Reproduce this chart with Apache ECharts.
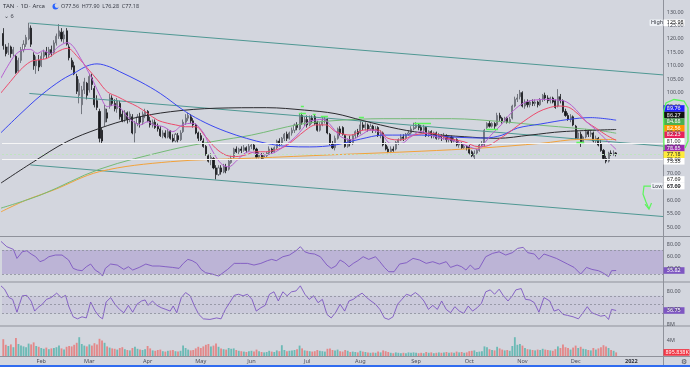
<!DOCTYPE html>
<html><head><meta charset="utf-8">
<script src="https://cdn.jsdelivr.net/npm/echarts@6.0.0/dist/echarts.min.js"></script>
<style>html,body{margin:0;padding:0;background:#d3d6de;}#c{width:690px;height:367px;}</style>
</head><body><div id="c"></div>
<script>
// ---------- DATA ----------
const open = [
122,117,115,117,114.5,113.5,108,112,116,118,
120,124,114,110,112,110,113.5,115,114,116,
115,118.5,121,122.5,120,123,117,112,110,106,
99,95.5,101,103.5,101,105.5,101.5,97,93,86,
89,92.5,95,98,96,94,96,92,90,92.5,
90,91,85,88.5,91,89,91.5,93,89.5,88,
89,87.5,86.5,84,85,83.5,85.5,83,82,84,
82.5,85.5,89,90.5,91,89.5,88,85,84,82,
80,76.5,75,75.5,72,69.5,72,70.5,72.5,71.5,
74,76,79,78,79,78.5,79.5,78.5,80,80.5,
79,76,77,76,76.5,77.5,79,78,79.5,82,
81,83,84.5,83,85,86,88,86.5,91.5,89,
90,88,90.5,91,89,86,88,89.5,90,84.5,
81,79.5,83,86.5,87,84,80,82.5,81,84,
85.5,85,88,87,88,86.5,87.5,86,87,84,
85,80.5,79,78,79,79,81.5,82.5,83.5,83,
84.5,85,86.5,87,88,87,86,87,84,85.5,
84,85,83,84,83.5,84,82.5,83.5,82,82.5,
80.5,81,79.5,80,80,78,76,77.5,78.5,80.5,
80.5,87,88.5,87.5,88.5,88,91.5,90.5,89.5,90.5,
89,90.5,95,97.5,98.5,100,95,96.5,95.5,96.5,
96,96.5,95.5,97.5,99,98,97,98,97,95,
98.5,97,93,91.5,90,91,87.5,83,84.5,81.5,
83.5,85.5,84.5,85,82,83,81,78.5,75.5,74.5,
77.5,77,77.56];
const high = [
124,118,118.5,117.5,117,114,113,117,119.5,121.5,
126,125,115,113.5,114,115,116,117,117,117.5,
119.5,122,125.5,124,123,124,118,113,111.5,107,
105,102.5,105.5,104,107,107,102.5,99,94,87,
95.5,94,99.5,99,97.5,98,97,93.5,93.5,93,
93,92,89.5,92,92.5,93,94,93.5,91,90,
90,88.5,87.5,86,86,86.5,86,84.5,85,85,
86,90,92,92.5,92,90.5,88.5,85.5,85,83,
80.5,77,77.5,76,73,73,73,73.5,73.5,75.5,
76.5,79.5,80,79.5,80,80.5,80,81,81,81,
79.5,78,77.5,77.5,78,80,79.5,80,82.5,83,
83.5,85,85.5,85.5,87,88.5,89,92.4,92.5,91,
91.5,91.5,91.5,92,89.5,89,91,91,90.5,85,
82,84,87,87.5,87.5,84.5,83,84,84.5,86,
86.5,89.5,89,89,88.5,88.5,88,87.5,87.5,86,
85.5,81.5,80,80,80,82,83,84.5,84.5,85,
86,87.5,88.8,89,88.5,88,88,87.5,86,86,
85.5,85.5,85,84.5,85,84.5,84,84,83.5,83,
82,81.5,81,80.5,80.5,78.5,78.5,79,81,82,
86.5,89,89.5,89,89,92.5,92.5,91,91,91,
91,95.5,98.5,99.5,101,100.5,97.5,97.5,97,97.5,
97.5,97,98,99.5,100,99,98.5,98.5,97.5,101.3,
99.5,97.5,94,92.5,92,91.5,88,86,85.5,84,
86.5,86,86,85.5,84,83.5,82.5,79,76.5,78,
78.5,78.5,77.9];
const low = [
116,113.5,114,113,113.5,107,107.5,111,115,117,
119.5,117,108.5,107,108,109.5,112.5,112.5,113,113.5,
114.5,117.5,120,119,118.5,117.5,112,108.5,106.5,99.5,
96,92,99.5,97.5,100,101,94.5,93.5,81.5,81.1,
87.5,89,94,95,93,92.5,90,89,89,88.5,
89,84.5,81.5,87.5,87,88,90.5,89,87,87,
86.5,85.5,83.5,83,83,83,82.5,81.5,81.5,81.5,
82,85,88,89.5,88.5,87,84.5,82,82,79.5,
76.5,74,73,71.5,67.69,69,69.5,70,70,71,
73.5,75.5,77.5,77,77.5,78,77.5,78,79,78.5,
75.5,75.5,75,75,76,77,77,77.5,79,80,
80.5,82,82,82.5,84,85,86,86,88,87.5,
87,87.5,88.5,88,85.5,85.5,87.5,88.5,84.5,80.5,
79,78.5,82.5,84,84,79.5,79.5,80,80.5,83,
83.5,84.5,86,86,85.5,86,85,85,83.5,83,
80,78.5,77.5,77.5,78,78.5,80.5,82,82,82.5,
84,84.5,86,86.5,86,85.5,85,83.5,83.5,83,
83,82.5,82.5,82,82.5,81.5,81.5,81,81.5,80,
79.5,79,79,78.5,77,76,75.3,77,78,80,
80,86.5,87,87,86.5,87.5,89.5,88.5,89,88.5,
88.5,90,94.5,96.5,97.5,94.5,94,94.5,94.5,95,
95,94.5,95,96.5,97,96,96,96,94,94.5,
96,92.5,91,89.5,89,87.5,82.5,82.5,79.8,81,
83,83.5,83.5,81.5,81,80,78,75,73.7,74,
76.5,76.5,76.28];
const close = [
117.5,114.5,117,114.5,116,107.5,112,116,118,120.5,
124,118,110,112,109.5,113.5,115,114,116,114.5,
118.5,121,123,120,121.5,118,113,109.5,107,100.5,
103.5,101,104,99,106,103,95.5,94.5,83,82,
94,90.5,98,96,94,97,91,89.5,92.5,90,
92,85,88.5,91,89,92,93,89.5,88,89,
87,86.5,84,85,83.5,85.5,83,82,84.5,82.5,
85,89,90.5,91.5,89.5,88,85,83,82.5,80,
77,74.5,76,72,69.5,72,70.5,72.5,71,74.5,
75.5,79,78,79,78.5,79.5,78.5,80,80.5,79,
76,77,75.5,76.5,77.5,79,78,79.5,82,81,
83,84.5,83,85,86,88,87,91.5,89,90,
88,90.5,89.5,88.5,86,88,89.5,90,85,81,
79.5,83,86.5,85,84.5,80,82.5,81,84,85.5,
84.5,88,87,88,86.5,87.5,86,86.5,84,85,
80.5,79,78,79,78.5,81.5,82.5,83.5,83,84.5,
85,86.5,87,88,87,86,87,84,85.5,84,
85,83,84,83.5,84,82.5,83.5,82,82.5,80.5,
81,79.5,80,79.5,77.5,76.5,77.5,78.5,80.5,81,
86,88.5,87.5,88.5,87.5,91.5,90.5,89.5,90.5,89,
90,95,97.5,98,100,95,96.5,95.5,96.5,96,
96.5,95.5,97.5,99,98,97,98,96.5,94.5,98.5,
97,93,91.5,90,91,88,83,85,81.5,83.5,
85.5,84.5,85,82,83,80.5,78.5,75.5,74.5,77.5,
77,77.6,77.18];
// volume in millions of shares
const volume = [
4.2,2.8,2.5,2.9,2.2,4.5,3.0,2.6,2.4,2.2,
3.1,2.9,3.4,2.5,2.3,2.0,1.8,2.1,1.7,1.9,
2.0,2.2,2.6,1.9,1.6,2.3,2.5,2.4,2.8,3.3,
4.7,3.0,2.6,2.4,2.9,2.6,3.2,2.9,4.3,3.9,
3.3,2.4,2.1,1.9,1.8,1.6,2.0,2.2,1.7,1.5,
1.4,2.0,2.3,1.8,1.6,1.5,1.7,2.5,1.9,1.4,
1.3,1.5,1.6,1.2,1.1,1.3,1.4,1.5,1.2,1.1,
1.3,2.6,2.0,1.6,1.4,1.5,1.9,2.3,2.0,2.4,
2.8,3.0,2.4,2.6,3.1,2.3,1.9,1.7,1.6,2.0,
1.8,1.9,1.5,1.3,1.2,1.1,1.0,1.2,1.3,1.1,
1.6,1.2,1.0,0.9,1.0,1.3,1.1,1.0,1.4,1.2,
2.7,1.5,1.2,1.3,1.4,1.5,1.7,2.6,1.9,1.4,
1.3,1.2,1.1,1.2,1.5,1.3,1.2,1.1,1.8,1.9,
1.5,1.4,1.6,1.2,1.1,1.5,1.3,1.0,1.1,1.0,
0.9,1.3,1.1,1.0,0.9,0.8,0.9,0.8,1.1,0.9,
1.4,1.2,1.0,0.8,0.7,0.9,0.8,0.7,0.8,0.7,
0.9,0.8,0.9,0.8,0.7,0.8,0.7,1.0,0.8,0.9,
0.7,0.8,0.9,0.8,0.9,1.0,0.8,0.9,0.8,1.1,
0.9,1.0,0.8,0.9,1.2,1.3,1.4,1.0,1.1,1.2,
2.4,2.2,1.7,1.5,1.4,2.3,1.9,1.6,1.4,1.5,
1.3,2.5,4.7,2.8,3.0,2.6,2.0,1.7,1.6,1.5,
1.4,1.6,1.5,1.8,1.6,1.5,1.4,1.3,1.7,2.4,
2.0,2.9,2.2,2.0,1.6,2.1,2.6,2.0,2.3,1.8,
1.7,1.5,1.4,2.0,1.6,1.9,2.2,2.7,2.4,2.0,
1.5,1.3,0.896];

// moving-average lines: [bar index, price]
const maPurple = [[-1,105.3],[1.6,109.6],[4.7,114],[7.9,115.9],[10.7,116.1],[13.4,114.6],[15.8,115.6],[18.6,114.6],[21.8,117.1],[25.3,118.6],[27.7,117.1],[30.5,112.8],[33.2,108.4],[35.6,104.1],[38.4,98.5],[41.1,94.8],[43.5,95.4],[46.3,94.2],[49,91],[51.4,89.2],[54.2,88],[57,89.2],[59.3,88],[63.3,87.3],[66.9,85.5],[70.8,88],[74.8,88.6],[78.7,85.5],[81.1,81.1],[83.9,76.2],[86.6,73.1],[89,72.4],[91.8,74.3],[94.5,76.8],[96.9,78],[99.7,77.4],[103.6,76.8],[107.6,78],[111.5,80.5],[115.5,83.6],[118.3,86.7],[120.6,89.2],[123.4,89.8],[126.2,90.1],[128.6,88.6],[131.3,85.5],[133.3,83.6],[137.3,82.4],[141.2,84.2],[145.2,86.1],[149.1,84.9],[153.1,81.1],[157,81.1],[161,83.6],[165,85.5],[168.9,84.2],[172.9,83],[176.8,82.4],[180.8,81.1],[184.7,79.6],[187.5,78.9],[189.9,81.1],[192.6,84.2],[196.6,88],[198.6,90.4],[202.5,94.2],[206.5,96.6],[210.4,97.3],[214.4,97.5],[218.4,97.3],[222.3,96.6],[226.3,93.5],[230.2,89.2],[234.2,86.1],[238.1,82.4],[242,78.85]];
const maRed = [[-1,99.8],[2.8,104.1],[6.7,108.4],[10.7,111.5],[13.4,112.1],[17.4,112.8],[21.4,115.2],[25.3,116.5],[29.3,113.4],[33.2,109.1],[37.2,104.7],[41.1,100.3],[45.1,98.5],[49,96.6],[53,94.8],[57,92.3],[60.9,89.8],[64.9,88.6],[68,88],[72,87.3],[76,87.3],[79.9,83.6],[83.9,79.3],[87.8,76.8],[91.8,76.2],[95.7,76.8],[99.7,78],[103.6,78],[107.6,78.7],[111.5,80.1],[115.5,83],[119.5,86.1],[123.4,88],[127.4,88],[131.3,85.5],[137.3,84.2],[142.4,86.1],[147.9,86.1],[151.9,83],[157,82.4],[162.2,84.2],[168.9,84.9],[175.6,83],[182,81.7],[187.5,79.9],[191.5,80.3],[195.4,82.5],[199.4,85],[203.3,87.8],[207.3,90.5],[211.2,92.8],[215.2,94.3],[219.1,95],[223.1,94.6],[227,92],[230.2,89.2],[234.2,86.7],[238.1,84.2],[242,82.23]];
const maBlue = [[-1,85],[7,92.3],[15,99.1],[23,104.7],[29,107.8],[33,109.9],[37,110.7],[42,109.6],[46,107.8],[54,104.1],[62,99.7],[72,92.9],[80,88.7],[88,85.5],[96,83],[104,81.1],[112,80],[121,79.8],[131,80.5],[141,82.7],[150,84.2],[165,84.2],[177,83.5],[190,83.1],[197,84.2],[203,86.8],[212,88.3],[223,90],[232,90.7],[242,89.76]];
const maBlack = [[-1,66.3],[12,74.3],[25,81.7],[38,86.7],[51,90.4],[66,92.9],[84,94.2],[104,94.4],[119,93.5],[131,92.2],[142,89.6],[156,86.5],[169,84.6],[182,83.6],[195,83],[208,84.2],[221,85.5],[242,86.27]];
const maGreen = [[-1,57],[15,62],[38,71.5],[66,78.7],[84,82],[98,84.2],[117,88.2],[131,89.6],[150,90.3],[177,90.3],[197,89.2],[208,88.2],[223,87],[236,85.8],[242,84.88]];
const maOrange = [[-1,55.6],[9,60],[20,63.8],[38,70.6],[66,74.3],[98,75.6],[131,76.9],[165,78.2],[189,79.4],[212,81.1],[228,82.6],[242,82.56]];

// drawn trend channel: [[startIdx, price],[endIdx, price]]
const channelLines = [
  [[10.3,125.9],[260.5,106.6]],
  [[10.3,99.7],[260.5,80.1]],
  [[10.7,73.1],[260.5,53.9]]];
// drawn horizontal levels
const hLevels = [81.00, 75.35];
const lastPrice = 77.18;
// green pivot dashes: [fromIdx, toIdx, price]
const pivotDashes = [[117.5,118.7,95],[116.7,119.5,92.4],[122.2,123.4,92],[125.4,128.2,91.3],[140.4,142.4,90.9],[162.2,168.9,88.7],[190.7,195.4,86.5],[226.3,229.4,81.6]];

// RSI pane, [bar index, value]
const rsi = [[-1.2,85.5],[1.4,75.5],[4,71],[5.4,56],[7.5,67],[9.3,68.8],[11,63.3],[12.8,58.8],[14.5,50.5],[16.2,53.3],[18,58.8],[20.6,61.6],[23.2,61.6],[25.8,53.3],[27.6,39.4],[29.3,36.6],[31.1,35.5],[32.8,42.1],[34.5,46.6],[36.3,36.6],[38,32.1],[39.2,26.6],[40.3,39.4],[42.4,46.6],[45,44.9],[47.6,37.7],[49.4,42.1],[51.1,36.6],[53.7,41],[56.3,46.6],[58.9,43.3],[61.6,43.3],[64.2,42.1],[66.8,41],[69.4,39.4],[71.1,47.7],[72.9,54.4],[74.6,52.2],[76.4,47.7],[78.1,37.7],[79.9,32.1],[82.5,29.9],[85.1,26.6],[86.8,32.1],[88.6,37.7],[91.2,47.7],[93.8,47.7],[96.4,47.7],[99,44.9],[101.7,47.7],[104.3,52.2],[106,54.4],[107.8,52.2],[110.4,58.8],[113,61.6],[115.6,68.8],[117.3,75.5],[119.1,67],[120.8,64.4],[122.9,63.3],[125.2,58.8],[127.8,44.9],[129.5,39.4],[131.3,43.3],[133,53.3],[134.8,48.8],[136.5,42.1],[138.2,47.7],[140,52.2],[142.1,58.8],[144.3,54.4],[147,58.8],[148.7,50.5],[150.5,41],[152.2,33.8],[154.3,33.8],[156.5,46.6],[159.2,48.8],[161.8,56],[164.4,53.3],[167,47.7],[169.6,50.5],[172.2,46.6],[174.9,50.5],[176.6,41],[179.2,44.9],[181,42.1],[182.7,36.6],[184.4,44.9],[186.2,37.7],[187.9,39.4],[190.5,58.8],[193.2,64.4],[195.8,67],[198.4,61.6],[201,65.5],[203.1,72.7],[205.3,74.4],[207.1,65.5],[209.7,63.3],[211.5,54.4],[213.5,63.3],[215.8,60],[218.4,56],[220.2,52.2],[222.8,46.6],[225.4,41],[228,29.9],[230.3,41],[232.4,37.7],[235,35.5],[236.7,32.1],[239,25.5],[240.2,35.5],[242,35.82]];
// second oscillator pane, [bar index, value]
const osc = [[-1.2,94],[0.5,85],[2.3,66],[3.7,62],[5.4,33],[7.5,70],[9.3,71],[11,58],[12.4,35.5],[13.6,43],[15.4,51],[17.1,62],[18.9,66],[21.1,76],[22.9,66],[24.6,71],[25.8,47],[27.6,22.6],[29.3,18],[31.1,22.6],[32.8,20],[34.5,56],[36.3,35.5],[38,22.6],[39.2,18],[40.6,56],[42.4,66],[44.1,51],[45.9,39.3],[47.6,31.7],[49.4,48.4],[51.1,33],[52.8,51],[54.6,58.3],[56,60.6],[57.2,48.4],[58.9,58.3],[60.7,48.4],[62.4,43],[64.2,39.3],[65.9,35.5],[67.1,47],[68.5,31.7],[70.3,66],[72,77.3],[73.8,70],[75.5,47],[77.2,28],[79,18],[81.6,16.6],[84.2,20],[86,18],[87.7,39.3],[89.4,54.5],[91.2,71],[92.9,73.5],[94.7,70],[96.4,73.5],[98.2,62],[99.9,35.5],[101.7,43],[103.4,48.4],[105.1,73.5],[106.9,79],[108.6,58.3],[110.4,79],[112.1,70],[113.8,79],[115.6,81],[117.3,92.5],[119.1,73.5],[120.8,62],[122.6,70],[124.3,54.5],[126,62],[127.8,28],[129.5,20],[131.3,33],[133,51],[134.8,35.5],[136.5,58.3],[138.2,62],[140,70],[141.7,76],[143.5,66],[145.2,58.3],[147,51],[148.7,39.3],[150.5,20],[152.2,16.6],[153.9,22.6],[155.7,51],[157.4,62],[159.2,73.5],[160.9,70],[162.7,77.3],[164.4,70],[166.1,58.3],[167.9,39.3],[169.6,48.4],[171.4,39.3],[173.1,58.3],[174.9,39.3],[176.6,31.7],[178.3,45.4],[180.1,35.5],[181.8,30.2],[183.6,47],[185.3,35.5],[187.1,43],[188.8,53],[190.5,79],[192.3,83.4],[194,73.5],[195.8,85],[197.5,70],[199.3,58.3],[201,70],[202.4,83.4],[204.5,86.4],[206.2,62],[208,60.6],[209.7,54.5],[211.5,33],[213.5,66],[215.8,58.3],[217.5,35.5],[219.3,39.3],[221,28],[222.8,25.7],[225,22.6],[227.1,18],[228.9,31.7],[230.6,45.4],[232.4,31.7],[234.1,28],[235.9,24],[237.6,25.7],[239,16.6],[240.2,39.3],[242,36.75]];

// axis ticks and labels
const monthTickIdx = [15,34,57,78,98,120,141,163,184,205,226,248];
const monthTickText = ['Feb','Mar','Apr','May','Jun','Jul','Aug','Sep','Oct','Nov','Dec','2022'];
const priceTicks = [130,125,120,115,110,105,100,95,90,85,80,75,70,65,60,55,50];
const rsiTicks = [80,60,40];
const oscTicks = [80,40];
const volTicks = [4,8];
const maLabelValues = [89.76,86.27,84.88,82.56,82.23,81.00,78.85,77.18,75.35];
const highValue = 125.98, lowValue = 67.69;
const rsiLast = 35.82, oscLast = 36.75, volLastText = '895.838K';

// ---------- STYLE ----------
const N_SLOTS = 261;
const slots = Array.from({length: N_SLOTS}, (_, i) => String(i));
const BG = '#d3d6de';
const maLabelBg = ['#1f1fff','#111111','#4caf50','#ff9800','#e8205a','#ffffff','#9c27b0','#ffeb3b','#ffffff'];
const maLabelFg = ['#fff','#fff','#fff','#fff','#fff','#222','#fff','#222','#222'];
const FONT = '"Noto Sans", "Liberation Sans", sans-serif';

const chart = echarts.init(document.getElementById('c'), null, {renderer: 'canvas'});
const xVal = (g) => ({type: 'value', gridIndex: g, min: -0.5, max: N_SLOTS - 0.5, show: false});
const yVal = (g, mn, mx) => ({type: 'value', gridIndex: g, min: mn, max: mx, show: false, scale: true});
const maSeries = (data, color, w) => ({type: 'line', xAxisIndex: 1, yAxisIndex: 0, data, smooth: 0.35, showSymbol: false, silent: true, z: 4, lineStyle: {color, width: w || 1}});

const option = {
  animation: false,
  backgroundColor: BG,
  grid: [
    {left: 2, top: 0, width: 661, height: 236, outerBoundsMode: 'none'},
    {left: 2, top: 236, width: 661, height: 46, outerBoundsMode: 'none'},
    {left: 2, top: 282, width: 661, height: 44, outerBoundsMode: 'none'},
    {left: 2, top: 326, width: 661, height: 30, outerBoundsMode: 'none'}
  ],
  xAxis: [
    {type: 'category', gridIndex: 0, data: slots, show: false, boundaryGap: true},
    xVal(0), xVal(1), xVal(2),
    {type: 'category', gridIndex: 3, data: slots, boundaryGap: true,
     axisLine: {show: false}, axisTick: {show: false}, splitLine: {show: false},
     axisLabel: {
       interval: (i) => monthTickIdx.indexOf(i) >= 0,
       formatter: (v) => { const k = monthTickIdx.indexOf(+v); return k < 0 ? '' : (k === 11 ? '{b|2022}' : monthTickText[k]); },
       rich: {b: {fontWeight: 'bold', fontSize: 5.6, color: '#2f323b', fontFamily: FONT}},
       fontSize: 5.6, color: '#4a4d57', margin: 2.5, fontFamily: FONT
     }}
  ],
  yAxis: [yVal(0, 46.65, 134.47), yVal(1, 16.67, 93.33), yVal(2, 1.8, 101.2), yVal(3, 0, 7.5)],
  series: [
    {type: 'candlestick', xAxisIndex: 0, yAxisIndex: 0, z: 3, silent: true,
     data: open.map((o, i) => [o, close[i], low[i], high[i]]),
     barWidth: '62%',
     itemStyle: {color: '#eceef2', color0: '#17181c', borderColor: '#5b5e67', borderColor0: '#17181c', borderWidth: 0.8},
     markLine: {silent: true, symbol: 'none', label: {show: false}, animation: false,
       data: hLevels.map(v => ({yAxis: v, lineStyle: {color: '#f6f6f6', type: 'solid', width: 1}}))
         .concat([{yAxis: lastPrice, lineStyle: {color: '#bfe3c0', type: [2, 2], width: 1}}])}},
    maSeries(maOrange, '#f2a23a'),
    maSeries(maGreen, '#74ba76'),
    maSeries(maBlack, '#2a2a2e'),
    maSeries(maBlue, '#3a47f0'),
    maSeries(maRed, '#ec4b6c'),
    maSeries(maPurple, '#b65fd0'),
    {type: 'lines', coordinateSystem: 'cartesian2d', xAxisIndex: 1, yAxisIndex: 0, silent: true, z: 4,
     data: channelLines.map(c => ({coords: c})), lineStyle: {color: '#4f9893', width: 1, opacity: 1}},
    {type: 'lines', coordinateSystem: 'cartesian2d', xAxisIndex: 1, yAxisIndex: 0, silent: true, z: 5,
     data: pivotDashes.map(d => ({coords: [[d[0], d[2]], [d[1], d[2]]]})), lineStyle: {color: '#5df55d', width: 1.3, opacity: 1}},
    {type: 'line', xAxisIndex: 2, yAxisIndex: 1, data: rsi, showSymbol: false, silent: true, z: 4,
     lineStyle: {color: '#7e57c2', width: 0.9},
     markArea: {silent: true, itemStyle: {color: 'rgba(126,87,194,0.27)'}, data: [[{yAxis: 30}, {yAxis: 70}]]},
     markLine: {silent: true, symbol: 'none', label: {show: false}, lineStyle: {color: '#8c8f9b', type: [2, 2], width: 0.8},
       data: [{yAxis: 70}, {yAxis: 30}]}},
    {type: 'line', xAxisIndex: 3, yAxisIndex: 2, data: osc, showSymbol: false, silent: true, z: 4,
     lineStyle: {color: '#7e57c2', width: 0.9},
     markArea: {silent: true, itemStyle: {color: 'rgba(126,87,194,0.09)'}, data: [[{yAxis: 30}, {yAxis: 70}]]},
     markLine: {silent: true, symbol: 'none', label: {show: false}, lineStyle: {color: '#8c8f9b', type: [2, 2], width: 0.8},
       data: [{yAxis: 70}, {yAxis: 50}, {yAxis: 30}]}},
    {type: 'bar', xAxisIndex: 4, yAxisIndex: 3, silent: true, barWidth: '72%',
     data: volume.map((v, i) => ({value: v, itemStyle: {color: close[i] >= open[i] ? 'rgba(38,166,154,0.6)' : 'rgba(239,83,80,0.6)'}}))}
  ]
};
chart.setOption(option);

// ---------- overlay texts / price labels ----------
const xIdxFor = [1, 2, 3, 4];
const py = (k, v) => chart.convertToPixel({xAxisIndex: xIdxFor[k], yAxisIndex: k}, [0, v])[1];
const G = [];
const txt = (x, y, s, o) => { o = o || {}; G.push({type: 'text', silent: true, z: o.z || 120,
  style: {text: s, x: x, y: y, fill: o.fill || '#4a4d57', font: (o.weight || 'normal') + ' ' + (o.size || 5.4) + 'px ' + FONT,
    textAlign: o.align || 'left', align: o.align || 'left', textVerticalAlign: 'middle', verticalAlign: 'middle'}}); };
const rect = (x, y, w, h, fill, o) => { o = o || {}; G.push({type: 'rect', silent: true, z: o.z || 110,
  shape: {x: x, y: y, width: w, height: h, r: o.r || 0}, style: {fill: fill, stroke: o.stroke || null, lineWidth: o.lw || 0}}); };
const line = (x1, y1, x2, y2, stroke, w) => G.push({type: 'line', silent: true, z: 105, shape: {x1, y1, x2, y2}, style: {stroke, lineWidth: w || 1}});
const poly = (pts, stroke, w) => G.push({type: 'polyline', silent: true, z: 130, shape: {points: pts}, style: {stroke, lineWidth: w || 1.3, fill: null}});

// pane separators and price-scale border
line(0, 236.5, 690, 236.5, '#8f929b', 1);
line(0, 282, 690, 282, '#8f929b', 1);
line(0, 326, 690, 326, '#8f929b', 1);
line(0, 356.5, 690, 356.5, '#8f929b', 1);
line(663.5, 0, 663.5, 366, '#8f929b', 1);

// axis tick labels
const LX = 666.8;
priceTicks.forEach(v => txt(LX, py(0, v), v.toFixed(2)));
rsiTicks.forEach(v => txt(LX, py(1, v), v.toFixed(2)));
oscTicks.forEach(v => txt(LX, py(2, v), v.toFixed(2)));
volTicks.forEach(v => txt(LX, py(3, v), v + 'M'));

// stacked moving-average / level labels
const LH = 6.6, LW = 21;
const bottomY = py(0, maLabelValues[maLabelValues.length - 1]) + 2.4;
maLabelValues.forEach((v, k) => {
  const y = bottomY - (maLabelValues.length - 1 - k) * LH;
  rect(663.5, y - LH / 2, LW, LH, maLabelBg[k]);
  txt(LX, y, v.toFixed(2), {fill: maLabelFg[k], z: 125});
});
// High label
const yH = py(0, highValue);
rect(649.5, yH - LH / 2, 13, LH, '#eef1f6', {r: 1});
txt(651, yH, 'High', {fill: '#2f323b', z: 125});
rect(663.5, yH - LH / 2, LW, LH, '#ffffff');
txt(LX, yH, highValue.toFixed(2), {fill: '#222', z: 125});
// Low labels
const yL = py(0, lowValue);
rect(663.5, yL - LH / 2, LW, LH, '#ffffff');
txt(LX, yL, lowValue.toFixed(2), {fill: '#222', z: 125});
rect(651, yL + LH - LH / 2, 11.5, LH, '#eef1f6', {r: 1});
txt(652.3, yL + LH, 'Low', {fill: '#2f323b', z: 125});
rect(663.5, yL + LH - LH / 2, LW, LH, '#ffffff');
txt(LX, yL + LH, lowValue.toFixed(2), {fill: '#222', z: 125});
// pane last-value labels
const yR = py(1, rsiLast);
rect(663.5, yR - LH / 2, LW, LH, '#7e57c2');
txt(LX, yR, rsiLast.toFixed(2), {fill: '#fff', z: 125});
const yO = py(2, oscLast);
rect(663.5, yO - LH / 2, LW, LH, '#7e57c2');
txt(LX, yO, oscLast.toFixed(2), {fill: '#fff', z: 125});
const yV = py(3, volume[volume.length - 1]);
rect(663.5, yV - LH / 2, 26, LH, '#f23645');
txt(665.5, yV, volLastText, {fill: '#fff', z: 125});

// hand-drawn green annotations (price-scale bracket and Low arrow)
poly([[664, 150], [663.5, 112], [666, 103], [674, 99.5], [684, 101], [688, 108], [688, 141], [685, 148]], '#5df55d', 1.3);
poly([[651, yL + LH], [644, yL + LH], [643, yL + LH + 8], [646, yL + LH + 16], [649, yL + LH + 23]], '#5df55d', 1.2);
poly([[645, yL + LH + 18], [649, yL + LH + 23], [651.5, yL + LH + 17]], '#5df55d', 1.2);

// header
txt(3, 6.5, 'TAN', {fill: '#2f323b', size: 6});
txt(16.5, 6.5, '·', {fill: '#2f323b', size: 6});
txt(20.5, 6.5, '1D', {fill: '#2f323b', size: 6});
txt(29, 6.5, '·', {fill: '#2f323b', size: 6});
txt(32.5, 6.5, 'Arca', {fill: '#2f323b', size: 6});
G.push({type: 'circle', silent: true, z: 120, shape: {cx: 55.5, cy: 6.5, r: 3}, style: {fill: '#2962ff'}});
G.push({type: 'circle', silent: true, z: 121, shape: {cx: 57, cy: 5.6, r: 2.3}, style: {fill: BG}});
txt(61, 6.5, 'O77.56  H77.90  L76.28  C77.18', {fill: '#3a3d47', size: 5.4});
txt(4, 16.5, '⌄ 6', {fill: '#3a3d47', size: 5.6});

// bottom bar and settings glyph
rect(0, 365, 690, 2, '#2f6bf0');
txt(684, 361.5, '⚙', {fill: '#4a4d57', size: 7, align: 'center'});

chart.setOption({graphic: {elements: G}});
</script></body></html>
